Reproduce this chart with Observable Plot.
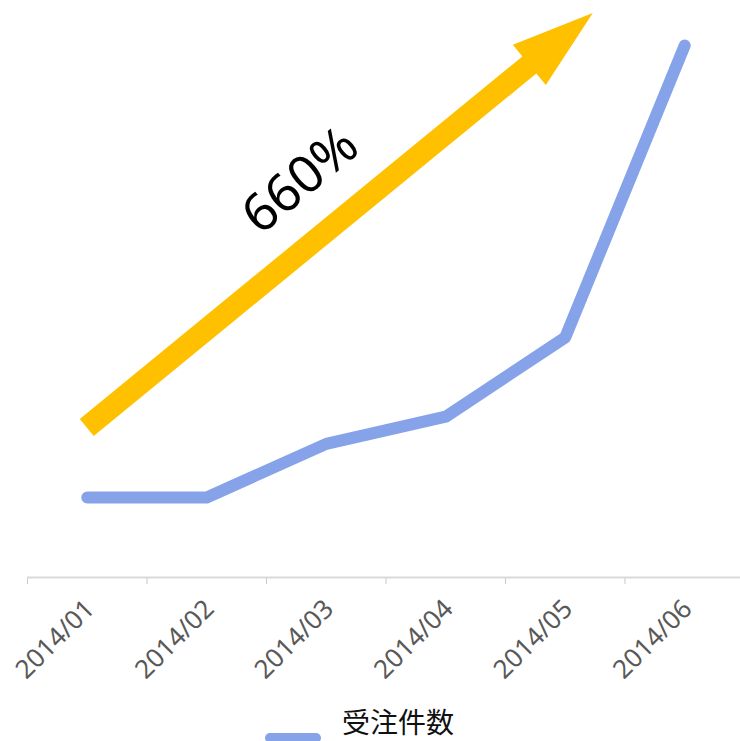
<!DOCTYPE html>
<html>
<head>
<meta charset="utf-8">
<script src="https://cdn.jsdelivr.net/npm/d3@7"></script>
<script src="https://cdn.jsdelivr.net/npm/@observablehq/plot@0.6"></script>
<style>
  html, body { margin: 0; padding: 0; background: #fff; }
  #wrap { position: relative; width: 740px; height: 741px; overflow: hidden; }
  #legend { position: absolute; left: 0; top: 704px; width: 740px; height: 37px; font-family: "Noto Sans CJK JP", sans-serif; font-size: 28px; color: #111; }
  #legend .sw { position: absolute; left: 265px; top: 29px; width: 56px; height: 10px; border-radius: 5px; background: #86A2E8; }
  #legend .lb { position: absolute; left: 342px; top: 0px; line-height: 34px; }
</style>
</head>
<body>
<div id="wrap"><div id="chart"></div><div id="legend"><span class="sw"></span><span class="lb"></span></div></div>
<script>
const months = ["2014/01", "2014/02", "2014/03", "2014/04", "2014/05", "2014/06"];
const orders = [10, 10, 16.7, 20.1, 30, 66.5];
const seriesName = "受注件数";
const arrowFrom = [0, 18.7];     // [month index, value]
const arrowTo = [4.235, 70.5];
const annotation = [{x: 1.785, y: 49.6, text: "660%"}];

const data = months.map((m, i) => ({i, month: m, v: orders[i]}));
const boundaries = months.map((m, i) => i - 0.5);

const arrowMark = (index, scales) => {
  const x0 = scales.x(arrowFrom[0]), y0 = scales.y(arrowFrom[1]);
  const x1 = scales.x(arrowTo[0]), y1 = scales.y(arrowTo[1]);
  const dx = x1 - x0, dy = y1 - y0, len = Math.hypot(dx, dy);
  const ux = dx / len, uy = dy / len, nx = -uy, ny = ux;
  const w = 11, H = 26, L = 82;
  const bx = x1 - ux * L, by = y1 - uy * L;
  const pts = [
    [x0 + nx * w, y0 + ny * w], [bx + nx * w, by + ny * w], [bx + nx * H, by + ny * H],
    [x1, y1],
    [bx - nx * H, by - ny * H], [bx - nx * w, by - ny * w], [x0 - nx * w, y0 - ny * w]
  ];
  const path = document.createElementNS("http://www.w3.org/2000/svg", "path");
  path.setAttribute("d", "M" + pts.map(p => p.join(",")).join("L") + "Z");
  path.setAttribute("fill", "#FFC000");
  return path;
};

const chart = Plot.plot({
  width: 740,
  height: 700,
  marginLeft: 27,
  marginRight: 0,
  marginTop: 17,
  marginBottom: 123,
  style: {background: "#fff", color: "#C8C8C8", overflow: "visible"},
  x: {type: "linear", domain: [-0.5, 5.467], ticks: boundaries, tickFormat: () => "", tickSize: 7, label: null, line: false},
  y: {domain: [0, 70], axis: null},
  marks: [
    Plot.ruleY([0], {stroke: "#D9D9D9", strokeWidth: 2}),
    Plot.text(data, {x: "i", y: 0, dy: 27, dx: 3, text: "month", rotate: -45, textAnchor: "end", fill: "#595959", fontSize: 26, fontFamily: "Noto Sans, Open Sans, sans-serif"}),
    arrowMark,
    Plot.text(annotation, {x: "x", y: "y", text: "text", rotate: -40, fill: "#000", fontSize: 52, fontFamily: "Noto Sans, Open Sans, sans-serif"}),
    Plot.line(data, {x: "i", y: "v", stroke: "#86A2E8", strokeWidth: 12, strokeLinecap: "round", strokeLinejoin: "round"})
  ]
});
document.getElementById("chart").appendChild(chart);
document.querySelector("#legend .lb").textContent = seriesName;
</script>
</body>
</html>
